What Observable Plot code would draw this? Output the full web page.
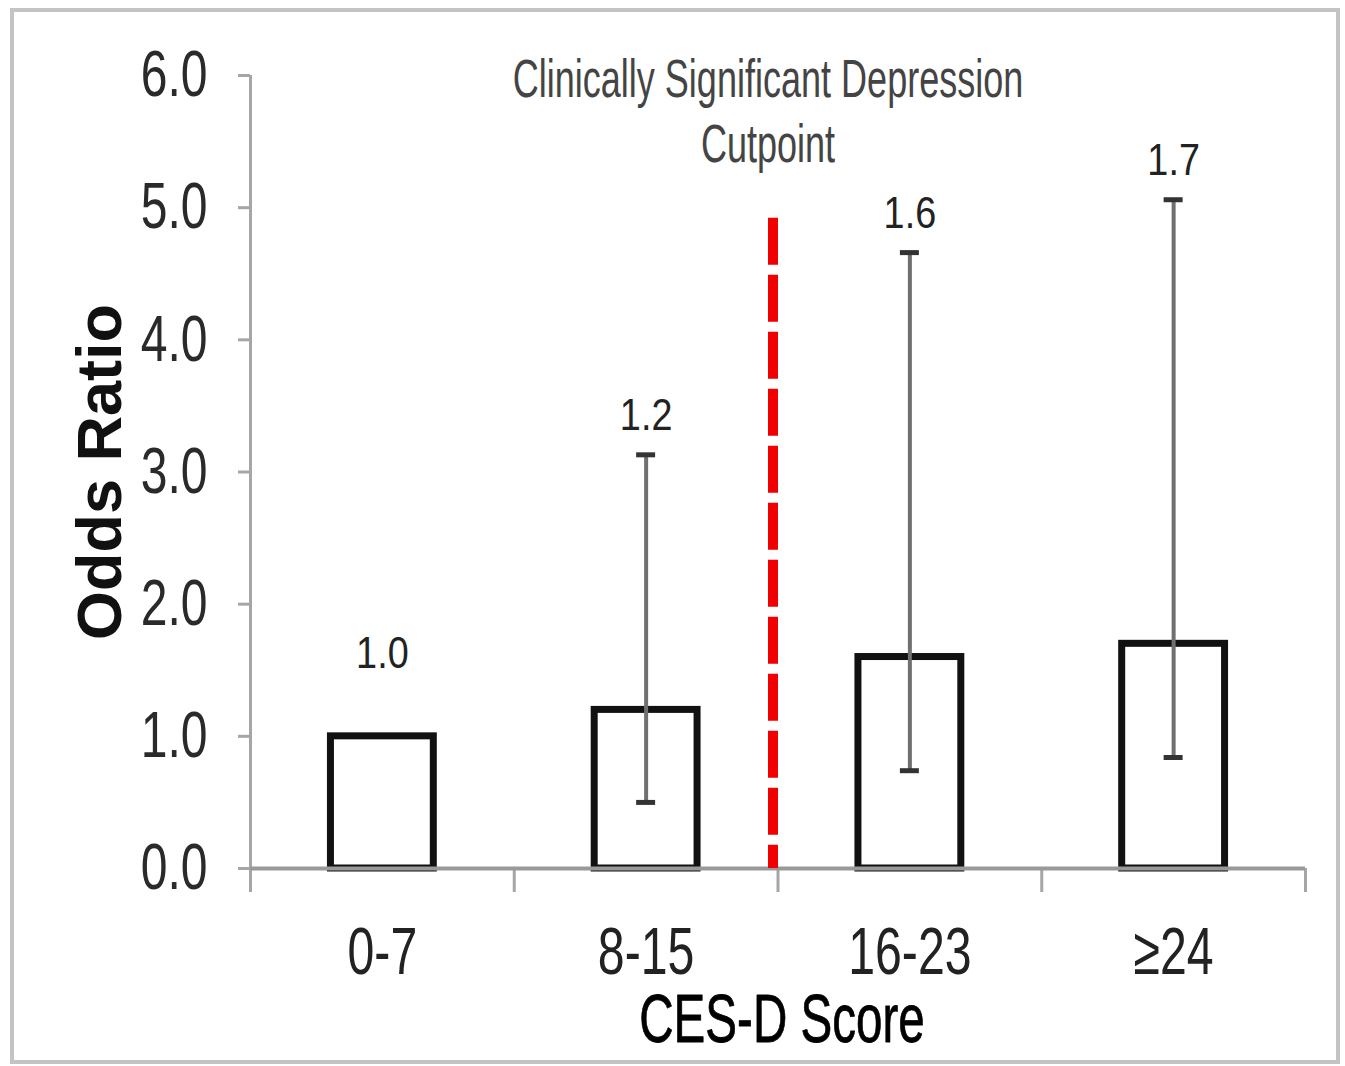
<!DOCTYPE html>
<html><head><meta charset="utf-8">
<script src="https://cdn.jsdelivr.net/npm/d3@7"></script>
<script src="https://cdn.jsdelivr.net/npm/@observablehq/plot@0.6"></script>
<style>
body{margin:0;background:#fff;}
#wrap{position:relative;width:1345px;height:1066px;overflow:hidden;}
#border{position:absolute;left:10px;top:8px;width:1330px;height:1056px;border:4px solid #c4c4c4;box-sizing:border-box;pointer-events:none;}
svg{display:block;}
</style></head><body><div id="wrap"><div id="border"></div></div>
<script>
// ---- data ----
const categories = ["0-7", "8-15", "16-23", "≥24"];
const oddsRatios = [1.0, 1.2, 1.6, 1.7];
const ciLower = [null, 0.5, 0.74, 0.84];
const ciUpper = [null, 3.13, 4.66, 5.06];
const valueLabels = ["1.0", "1.2", "1.6", "1.7"];
const yTicks = [0, 1, 2, 3, 4, 5, 6];
const yTickLabels = ["0.0", "1.0", "2.0", "3.0", "4.0", "5.0", "6.0"];
const cutpointIndex = 2;      // boundary between "8-15" and "16-23"
const cutpointTop = 4.92;
const titleLines = ["Clinically Significant Depression", "Cutpoint"];
const xTitle = "CES-D Score";
const yTitle = "Odds Ratio";

const rows = categories.map((c, i) => ({
  i, category: c, or: oddsRatios[i], lo: ciLower[i], hi: ciUpper[i], label: valueLabels[i]
}));
const withCI = rows.filter(d => d.hi != null);
const noCI = rows.filter(d => d.hi == null);
const boundaries = d3.range(categories.length + 1);

const font = "'Liberation Sans', Arial, sans-serif";
const half = 0.195, cap = 0.036;
// font sizes (also used to pick groups for horizontal condensing)
const FS = {ytick: 65, vlabel: 45, xcat: 67, xlabel: 68, title: 53, ylabel: 63};

const chart = Plot.plot({
  width: 1345,
  height: 1066,
  marginLeft: 250,
  marginRight: 40,
  marginTop: 75,
  marginBottom: 198,
  style: {fontFamily: font, background: "transparent", overflow: "visible"},
  x: {domain: [0, categories.length], axis: null},
  y: {domain: [0, 6], axis: null},
  marks: [
    Plot.rect(rows, {
      x1: d => d.i + 0.5 - half, x2: d => d.i + 0.5 + half,
      y1: 0, y2: "or",
      fill: "white", stroke: "#111", strokeWidth: 7
    }),
    Plot.ruleX(withCI, {x: d => d.i + 0.5, y1: "lo", y2: "hi", stroke: "#707070", strokeWidth: 4}),
    Plot.ruleY(withCI, {y: "hi", x1: d => d.i + 0.5 - cap, x2: d => d.i + 0.5 + cap, stroke: "#333", strokeWidth: 5}),
    Plot.ruleY(withCI, {y: "lo", x1: d => d.i + 0.5 - cap, x2: d => d.i + 0.5 + cap, stroke: "#333", strokeWidth: 5}),
    Plot.ruleX([0], {y1: 0, y2: 6, stroke: "#a6a6a6", strokeWidth: 3}),
    Plot.axisY(yTicks, {
      ticks: yTicks, tickFormat: d => yTickLabels[yTicks.indexOf(d)],
      tickSize: 12, tickPadding: 31, fontSize: FS.ytick, stroke: "#a6a6a6", strokeWidth: 3,
      fill: "#2a2a2a", label: null
    }),
    Plot.axisX(boundaries, {
      ticks: boundaries, tickFormat: () => "", tickSize: 24, stroke: "#a6a6a6", strokeWidth: 3, label: null
    }),
    Plot.ruleY([0], {x1: 0, x2: categories.length, stroke: "#999", strokeWidth: 4}),
    Plot.ruleX([cutpointIndex], {y1: cutpointTop, y2: 0, dx: -5, stroke: "#f00000", strokeWidth: 10, strokeDasharray: "47,10"}),
    Plot.text(withCI, {x: d => d.i + 0.5, y: "hi", text: "label", dy: -39, fontSize: FS.vlabel, fill: "#222"}),
    Plot.text(noCI, {x: d => d.i + 0.5, y: "or", text: "label", dy: -83, fontSize: FS.vlabel, fill: "#222"}),
    Plot.text(rows, {x: d => d.i + 0.5, y: 0, text: "category", dy: 84, fontSize: FS.xcat, fill: "#222"}),
    Plot.text([titleLines.join("\n")], {x: cutpointIndex, y: 6, text: d => d, dx: -10, dy: 33, lineHeight: 1.23, fontSize: FS.title, fill: "#444"}),
    Plot.text([xTitle], {frameAnchor: "bottom", lineAnchor: "middle", textAnchor: "middle", text: d => d, dx: 4, dy: 152, fontSize: FS.xlabel, fill: "#000", stroke: "#000", strokeWidth: 0.8}),
    Plot.text([yTitle], {frameAnchor: "left", textAnchor: "middle", lineAnchor: "middle", text: d => d, rotate: -90, dx: -150, fontSize: FS.ylabel, fontWeight: "bold", fill: "#111"})
  ]
});

function squeeze(svg, size, s) {
  svg.querySelectorAll(`g[font-size="${size}"] text`).forEach(t => {
    const tr = t.getAttribute("transform") || "";
    const x = t.getAttribute("x");
    if (!tr && (x !== null)) {
      const xx = +x || 0;
      t.setAttribute("transform", `translate(${xx},0) scale(${s},1) translate(${-xx},0)`);
    } else {
      t.setAttribute("transform", `${tr} scale(${s},1)`);
    }
  });
}
squeeze(chart, FS.ytick, 0.74);
squeeze(chart, FS.xcat, 0.72);
squeeze(chart, FS.xlabel, 0.70);
squeeze(chart, FS.title, 0.68);
squeeze(chart, FS.vlabel, 0.84);

document.getElementById("wrap").prepend(chart);
</script>
</body></html>
